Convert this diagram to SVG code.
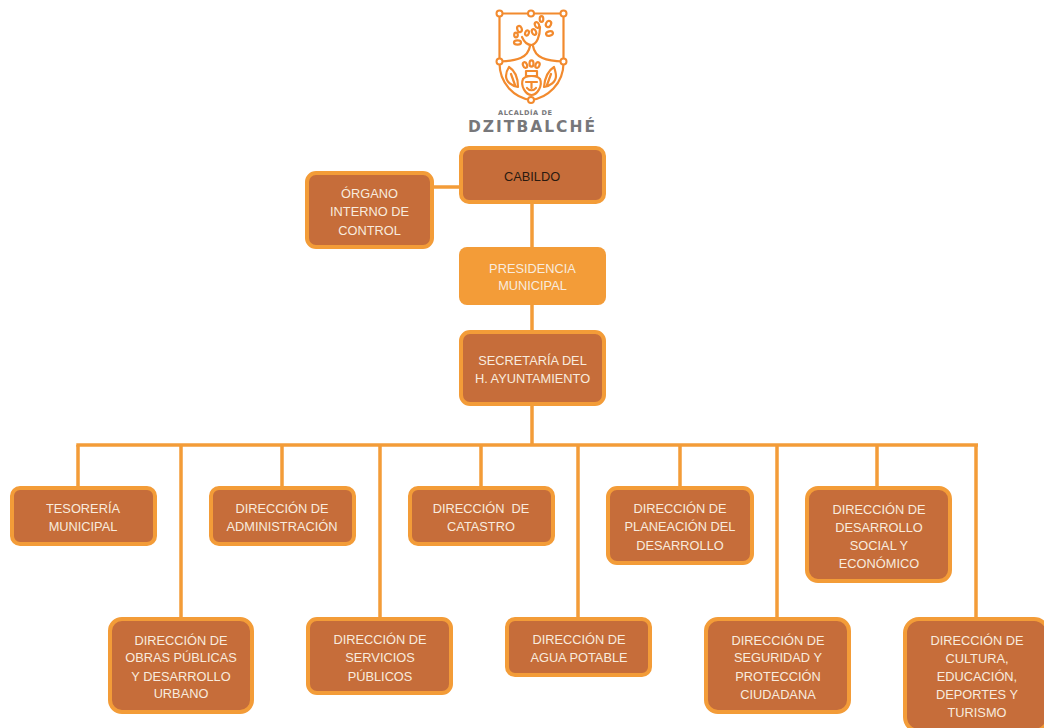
<svg xmlns="http://www.w3.org/2000/svg" width="1044" height="728" viewBox="0 0 1044 728">
<defs><filter id="soft" x="-5%" y="-5%" width="110%" height="110%"><feGaussianBlur stdDeviation="0.35"/></filter></defs>
<style>
.n{fill:#c66d3a;stroke:#f39c38;stroke-width:4}
.p{fill:#f39c38}
.t{font-family:"Liberation Sans",Arial,sans-serif;font-size:12.8px;fill:#f8ebde;text-anchor:middle}
.c{fill:none;stroke:#f39c38;stroke-width:3.5}
.l{fill:none;stroke:#f28a2e;stroke-width:2.2;stroke-linecap:round;stroke-linejoin:round}
.d{fill:#fff;stroke:#f28a2e;stroke-width:2}
.g{font-family:"DejaVu Sans",Verdana,sans-serif;font-weight:bold;fill:#77777a;text-anchor:middle}
</style>
<g id="logo">
<g filter="url(#soft)">
<path class="l" d="M499.500 13.500H563.500M499.500 13.500V61.500M563.500 13.500V61.500M499.500 62C499 84 515 98 531 100C547 98 564 84 563.500 62"/>
<path class="l" d="M499.500 61.500C517 61 528 58 530 46M563.500 61.500C546 61 535 58 533 46"/>
<path class="l" stroke-width="3" d="M522 37C525 44 529 45 531.500 45C537 44 540 36 540 27"/>
<g class="l">
<ellipse cx="517.500" cy="42.500" rx="3.500" ry="2.200"/><ellipse cx="516" cy="35" rx="1.800" ry="2.300"/><ellipse cx="519.500" cy="29" rx="2.200" ry="3.200" transform="rotate(-20 519.500 29)"/><ellipse cx="527" cy="33" rx="1.800" ry="2.600" transform="rotate(20 527 33)"/><ellipse cx="534" cy="32" rx="2" ry="3" transform="rotate(-25 534 32)"/><ellipse cx="537" cy="25" rx="2" ry="3" transform="rotate(-25 537 25)"/><ellipse cx="541.500" cy="19" rx="1.800" ry="2.800"/><ellipse cx="548.500" cy="24" rx="2.500" ry="3.200" transform="rotate(25 548.500 24)"/><ellipse cx="549.500" cy="33.500" rx="3.500" ry="2.200" transform="rotate(-15 549.500 33.500)"/>
<ellipse cx="525" cy="65" rx="2" ry="3" transform="rotate(-20 525 65)"/><ellipse cx="531.500" cy="63.500" rx="2" ry="3.200"/><ellipse cx="537.500" cy="65" rx="2" ry="3" transform="rotate(20 537.500 65)"/>
<path d="M526 71H537V76H526ZM523 79C520 86 526 95 531.500 95C537 95 543 86 540 79C537 75 526 75 523 79ZM526 82H537M531.500 82V88M527 88C529 91 534 91 536 88"/>
<path d="M509 67C514 70 518 76 518 87C512 86 506 82 506 76C506 73 507 70 509 67ZM511 74L515 85"/>
<path d="M554 67C549 70 545 76 544 87C550 86 556 82 556 76C556 73 555 70 554 67ZM551 74L547 85"/>
</g>
<circle class="d" cx="499.500" cy="13.500" r="3"/><circle class="d" cx="531" cy="13.500" r="3"/><circle class="d" cx="563.500" cy="13.500" r="3"/><circle class="d" cx="499.500" cy="61.500" r="3"/><circle class="d" cx="563.500" cy="61.500" r="3"/><circle class="d" cx="531" cy="100" r="3"/>
</g>
<text class="g" x="525" y="115" font-size="6.600" textLength="54" lengthAdjust="spacing">ALCALDÍA DE</text>
<text class="g" x="531.500" y="132" font-size="15.500" textLength="127" lengthAdjust="spacing">DZITBALCHÉ</text>
</g>
<g id="connectors" class="c">
<path d="M532 204V445M434 187H459"/>
<path d="M76.300 445H978"/>
<path d="M78 445V486M181 445V617M282 445V486M380 445V617M481 445V486M578 445V617M680 445V486M777 445V617M877 445V486M976 445V617"/>
</g>
<g id="cabildo"><rect class="n" x="461" y="148" width="143" height="54" rx="8"/><text class="t" x="532" y="181" style="fill:#2a1a10">CABILDO</text></g>
<g id="organo"><rect class="n" x="307" y="173" width="125" height="74" rx="9"/><text class="t" x="369.500" y="198">ÓRGANO</text><text class="t" x="369.500" y="216">INTERNO DE</text><text class="t" x="369.500" y="235">CONTROL</text></g>
<g id="presidencia"><rect class="p" x="459" y="247" width="147" height="58" rx="8"/><text class="t" x="532.500" y="273">PRESIDENCIA</text><text class="t" x="532.500" y="290">MUNICIPAL</text></g>
<g id="secretaria"><rect class="n" x="461" y="332" width="143" height="72" rx="9"/><text class="t" x="532.500" y="365">SECRETARÍA DEL</text><text class="t" x="532.500" y="383">H. AYUNTAMIENTO</text></g>
<g id="tesoreria"><rect class="n" x="12" y="488" width="143" height="56" rx="8"/><text class="t" x="83" y="513">TESORERÍA</text><text class="t" x="83" y="531">MUNICIPAL</text></g>
<g id="administracion"><rect class="n" x="211" y="488" width="143" height="56" rx="8"/><text class="t" x="282" y="513">DIRECCIÓN DE</text><text class="t" x="282" y="531">ADMINISTRACIÓN</text></g>
<g id="catastro"><rect class="n" x="410" y="488" width="143" height="56" rx="8"/><text class="t" x="481" y="513" xml:space="preserve">DIRECCIÓN  DE</text><text class="t" x="481" y="531">CATASTRO</text></g>
<g id="planeacion"><rect class="n" x="608" y="488" width="144" height="75" rx="9"/><text class="t" x="680" y="513">DIRECCIÓN DE</text><text class="t" x="680" y="531">PLANEACIÓN DEL</text><text class="t" x="680" y="550">DESARROLLO</text></g>
<g id="social"><rect class="n" x="807" y="488" width="143" height="93" rx="11"/><text class="t" x="879" y="514">DIRECCIÓN DE</text><text class="t" x="879" y="532">DESARROLLO</text><text class="t" x="879" y="550">SOCIAL Y</text><text class="t" x="879" y="568">ECONÓMICO</text></g>
<g id="obras"><rect class="n" x="110" y="619" width="142" height="93" rx="12"/><text class="t" x="181" y="645">DIRECCIÓN DE</text><text class="t" x="181" y="662">OBRAS PÚBLICAS</text><text class="t" x="181" y="681">Y DESARROLLO</text><text class="t" x="181" y="698">URBANO</text></g>
<g id="servicios"><rect class="n" x="308" y="619" width="143" height="74" rx="9"/><text class="t" x="380" y="644">DIRECCIÓN DE</text><text class="t" x="380" y="662">SERVICIOS</text><text class="t" x="380" y="681">PÚBLICOS</text></g>
<g id="agua"><rect class="n" x="507" y="619" width="143" height="56" rx="8"/><text class="t" x="579" y="644">DIRECCIÓN DE</text><text class="t" x="579" y="662">AGUA POTABLE</text></g>
<g id="seguridad"><rect class="n" x="706" y="619" width="143" height="93" rx="12"/><text class="t" x="778" y="645">DIRECCIÓN DE</text><text class="t" x="778" y="662">SEGURIDAD Y</text><text class="t" x="778" y="681">PROTECCIÓN</text><text class="t" x="778" y="699">CIUDADANA</text></g>
<g id="cultura"><rect class="n" x="905" y="619" width="143" height="112" rx="14"/><text class="t" x="977" y="645">DIRECCIÓN DE</text><text class="t" x="977" y="663">CULTURA,</text><text class="t" x="977" y="681">EDUCACIÓN,</text><text class="t" x="977" y="699">DEPORTES Y</text><text class="t" x="977" y="717">TURISMO</text></g>
</svg>
